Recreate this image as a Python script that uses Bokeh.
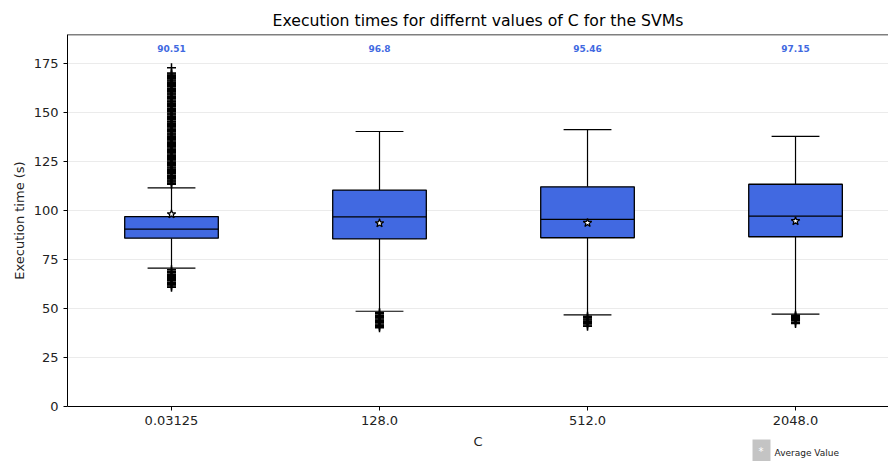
import math
from bokeh.plotting import figure
from bokeh.models import Label, Span, FixedTicker, Range1d, Title
from bokeh.embed import file_html
from bokeh.resources import INLINE

# ---- data ----
categories = ["0.03125", "128.0", "512.0", "2048.0"]
positions = [1, 2, 3, 4]
q1 = [85.9, 85.5, 86.1, 86.6]
median = [90.51, 96.8, 95.46, 97.15]
q3 = [96.9, 110.4, 112.1, 113.4]
whisker_low = [70.6, 48.6, 46.8, 47.1]
whisker_high = [111.5, 140.3, 141.3, 137.8]
means = [98.1, 93.5, 93.7, 94.6]
median_labels = ["90.51", "96.8", "95.46", "97.15"]

outliers_c1 = [113.4, 113.9, 114.5, 115.1, 115.6, 116.2, 116.9, 117.4, 118.0, 118.7,
               119.3, 119.8, 120.4, 121.1, 121.7, 122.2, 122.9, 123.5, 124.0, 124.6,
               125.3, 125.9, 126.4, 127.1, 127.7, 128.2, 128.8, 129.5, 130.1, 130.6,
               131.2, 131.9, 132.5, 133.0, 133.7, 134.3, 134.8, 135.4, 136.1, 136.7,
               137.2, 137.9, 138.5, 139.0, 139.6, 140.3, 140.9, 141.4, 142.1, 142.7,
               143.2, 143.8, 144.5, 145.1, 145.6, 146.3, 146.9, 147.4, 148.0, 148.7,
               149.3, 149.8, 150.5, 151.1, 151.6, 152.2, 152.9, 153.5, 154.0, 154.7,
               155.3, 155.8, 156.4, 157.1, 157.7, 158.2, 158.9, 159.5, 160.0, 160.6,
               161.3, 161.9, 162.4, 163.1, 163.7, 164.2, 164.8, 165.5, 166.1, 166.6,
               167.2, 167.9, 168.5, 169.0, 169.6, 170.2, 172.8,
               60.8, 61.5, 62.1, 62.8, 63.4, 64.1, 64.7, 65.3, 65.9, 66.4,
               66.9, 67.5, 68.2, 69.0, 69.8]
outliers_c2 = [40.2, 40.8, 41.5, 42.1, 42.8, 43.4, 44.0, 44.6, 45.3, 45.9, 46.6, 47.3, 48.0]
outliers_c3 = [41.0, 41.6, 42.3, 42.9, 43.5, 44.1, 44.7, 45.3, 46.0]
outliers_c4 = [42.3, 43.0, 43.7, 44.2, 44.6, 45.0, 45.3, 45.7, 46.1, 46.5]

FONT = "DejaVu Sans"
BOX_W = 0.45
CAP_W = 0.23
BLUE = "#4169E1"

Y_TOP = 189.8
Y_BOTTOM = -28.06   # room below the axis for tick labels, axis title and legend
p = figure(width=888, height=461, output_backend="svg", toolbar_location=None,
           x_range=Range1d(0.5, 4.447), y_range=Range1d(Y_BOTTOM, Y_TOP),
           min_border_left=67, min_border_right=0, min_border_top=34, min_border_bottom=0)
p.title = Title(text="Execution times for differnt values of C for the SVMs",
                align="center", text_font=FONT, text_font_size="15.7px",
                text_font_style="normal", text_color="black")
p.outline_line_color = None
p.background_fill_color = "white"
p.border_fill_color = "white"

# grid
p.xgrid.grid_line_color = None
p.ygrid.grid_line_color = "#ebebeb"
p.ygrid.grid_line_width = 1

# axes
for ax in (p.xaxis[0], p.yaxis[0]):
    ax.axis_line_color = "black"
    ax.axis_line_width = 1
    ax.major_tick_line_color = "black"
    ax.major_tick_out = 4
    ax.major_tick_in = 0
    ax.minor_tick_line_color = None
    ax.major_label_text_font = FONT
    ax.major_label_text_font_size = "13px"
    ax.major_label_text_color = "#222222"
    ax.axis_label_text_font = FONT
    ax.axis_label_text_font_size = "13px"
    ax.axis_label_text_font_style = "normal"
    ax.axis_label_text_color = "#222222"

p.yaxis.ticker = FixedTicker(ticks=[0, 25, 50, 75, 100, 125, 150, 175])
p.yaxis.bounds = (0, Y_TOP)
p.xaxis.ticker = FixedTicker(ticks=positions)
p.xaxis.major_label_overrides = {pos: lab for pos, lab in zip(positions, categories)}
p.xaxis.fixed_location = 0
p.xaxis.axis_label = "C"
p.xaxis.axis_label_standoff = 6

# y-axis title, centred on the 0..Y_TOP span (left panel, screen units)
p.add_layout(Label(x=4, y=241, x_units="screen", y_units="screen",
                   text="Execution time (s)", angle=math.pi / 2,
                   text_align="center", text_baseline="middle", text_font=FONT,
                   text_font_size="13px", text_color="#222222"), "left")

# top spine
p.add_layout(Span(location=Y_TOP, dimension="width", line_color="black", line_width=1.5))

# whiskers
p.segment(x0=positions, y0=q3, x1=positions, y1=whisker_high, line_color="black", line_width=1.2)
p.segment(x0=positions, y0=q1, x1=positions, y1=whisker_low, line_color="black", line_width=1.2)
caps_l = [x - CAP_W / 2 for x in positions]
caps_r = [x + CAP_W / 2 for x in positions]
p.segment(x0=caps_l, y0=whisker_high, x1=caps_r, y1=whisker_high, line_color="black", line_width=1.2)
p.segment(x0=caps_l, y0=whisker_low, x1=caps_r, y1=whisker_low, line_color="black", line_width=1.2)

# boxes
p.vbar(x=positions, width=BOX_W, bottom=q1, top=q3, fill_color=BLUE,
       line_color="black", line_width=1.3)
box_l = [x - BOX_W / 2 for x in positions]
box_r = [x + BOX_W / 2 for x in positions]
p.segment(x0=box_l, y0=median, x1=box_r, y1=median, line_color="black", line_width=1.3)

# outliers
for pos, vals in zip(positions, [outliers_c1, outliers_c2, outliers_c3, outliers_c4]):
    p.scatter(x=[pos] * len(vals), y=vals, marker="cross", size=9,
              line_color="black", line_width=1.5)

# means
p.scatter(x=positions, y=means, marker="star", size=9, fill_color="white",
          line_color="black", line_width=1.2)

# median labels
p.text(x=positions, y=[182.7] * 4, text=median_labels, text_align="center",
       text_baseline="middle", text_font_size="9px", text_font_style="bold",
       text_color=BLUE, text_font={"value": FONT})

# legend-like annotation (screen units, relative to the frame's bottom-left)
p.add_layout(Label(x=685, y=10, x_units="screen", y_units="screen", text="*",
                   text_align="left", text_baseline="middle", text_font=FONT,
                   text_font_size="10px", text_color="white",
                   background_fill_color="#c4c4c4", padding=(6, 7, 6, 7)))
p.add_layout(Label(x=707, y=9, x_units="screen", y_units="screen", text="Average Value",
                   text_align="left", text_baseline="middle", text_font=FONT,
                   text_font_size="9px", text_color="#222222"))

open("out.html", "w").write(file_html(p, INLINE))
